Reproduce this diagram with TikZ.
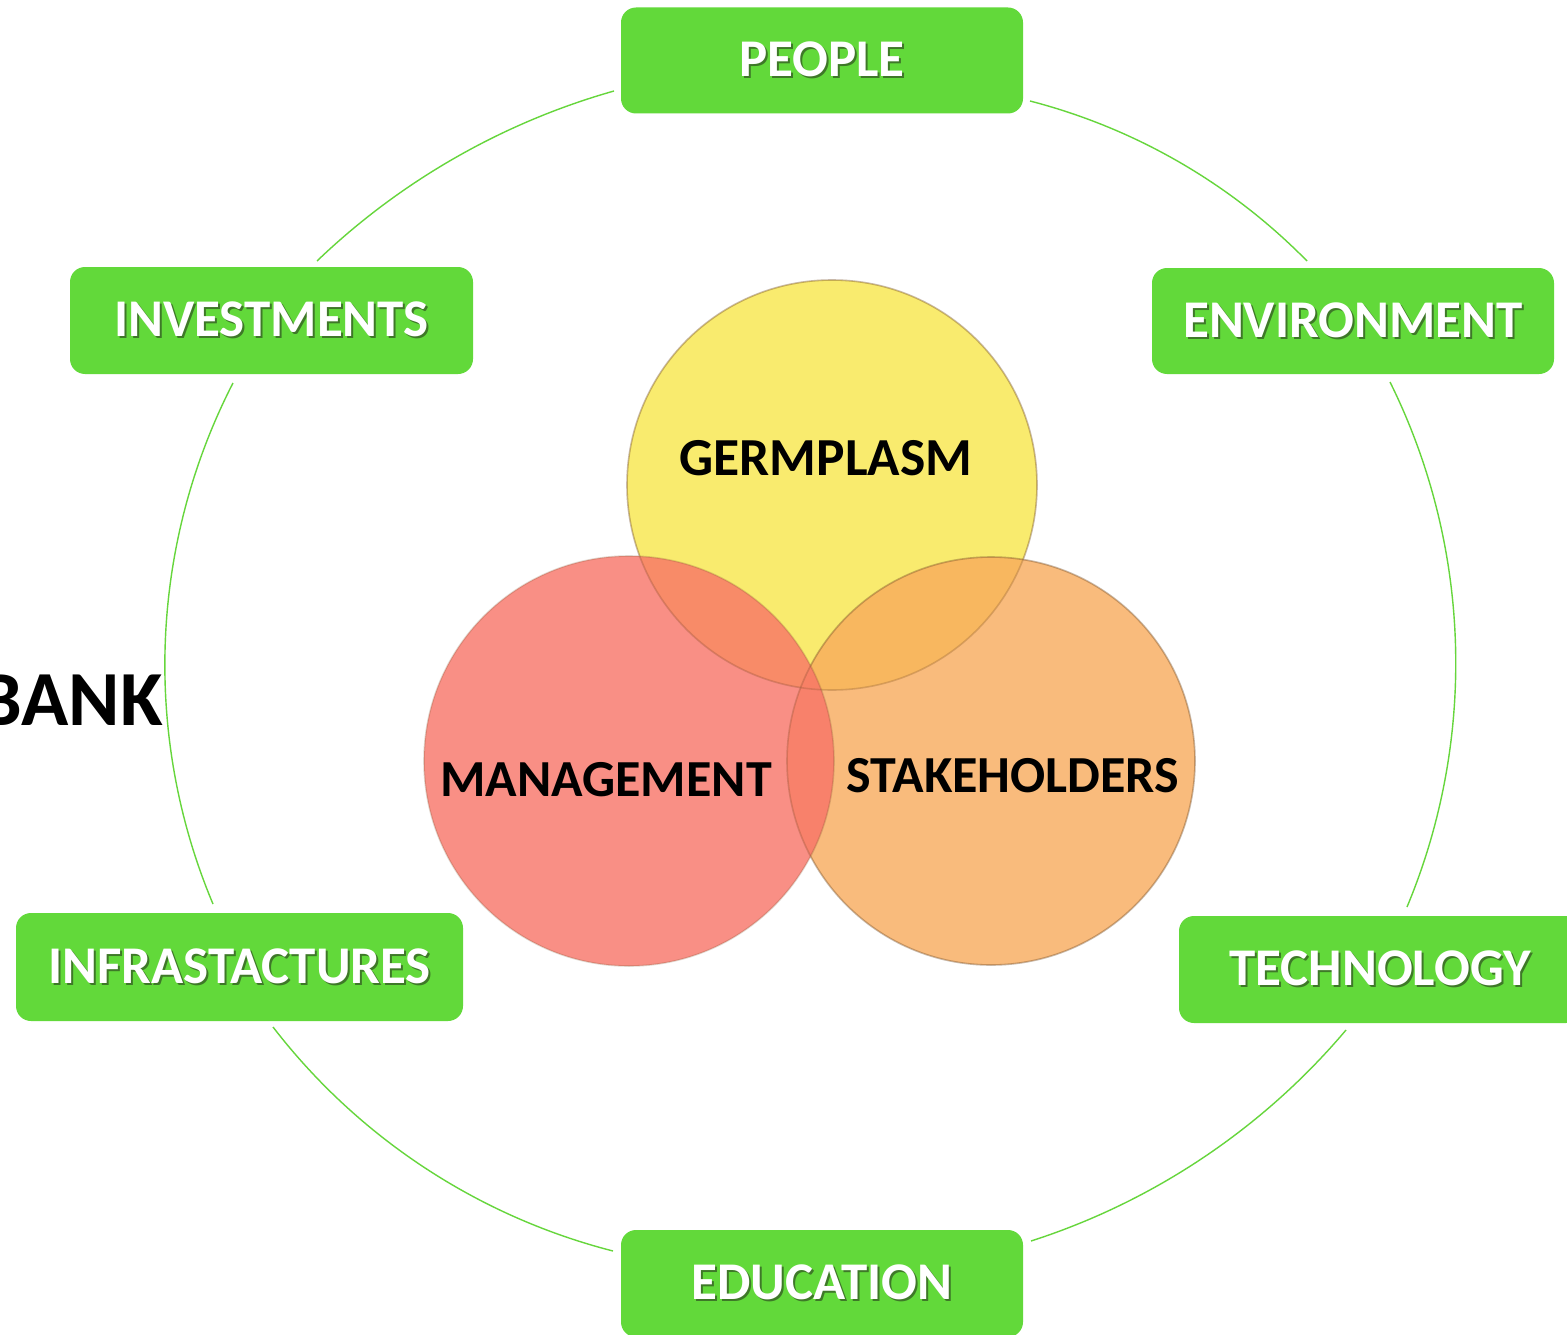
\documentclass[tikz,border=0pt]{standalone}
\usepackage{fontspec}
\setmainfont{Carlito}
\definecolor{boxgreen}{RGB}{98,217,58}
\definecolor{ringgreen}{RGB}{102,214,60}
\definecolor{shadegreen}{RGB}{62,120,40}
\definecolor{cyellow}{RGB}{248,230,74}
\definecolor{corange}{RGB}{248,171,92}
\definecolor{cred}{RGB}{248,115,103}
\newcommand\shadowed[1]{\rlap{\kern2pt\raisebox{-2pt}{\textcolor{shadegreen}{#1}}}#1}
\tikzset{
  x=1pt,y=1pt,
  greenbox/.style={fill=boxgreen, rounded corners=15pt, inner sep=0pt,
    minimum width=402pt, minimum height=106pt, text=white,
    font=\fontsize{53}{60}\selectfont\bfseries},
  ring/.style={draw=ringgreen, line width=1.4pt},
  bubble/.style={fill opacity=0.8, draw=brown!60!black, draw opacity=0.22, line width=1.6pt},
  bubbletext/.style={anchor=base, font=\fontsize{52}{60}\selectfont\bfseries, text=black, inner sep=0pt}
}
\begin{document}
\begin{tikzpicture}
\useasboundingbox (0,0) rectangle (1567,-1335);
\clip (0,0) rectangle (1567,-1335);
\fill[white] (0,0) rectangle (1567,-1335);
% outer ring end points
\coordinate (a1s) at (614,-91);   \coordinate (a1e) at (317,-261);
\coordinate (a2s) at (233,-383);  \coordinate (a2e) at (213,-904);
\coordinate (a3s) at (273,-1027); \coordinate (a3e) at (613,-1251);
\coordinate (a4s) at (1031,-1241);\coordinate (a4e) at (1346,-1030);
\coordinate (a5s) at (1407,-907); \coordinate (a5e) at (1390,-382);
\coordinate (a6s) at (1307,-261); \coordinate (a6e) at (1030,-101);
\draw[ring] (a1s) to[bend right=14, looseness=0.865] (a1e);
\draw[ring] (a2s) to[bend right=25, looseness=0.893] (a2e);
\draw[ring] (a3s) to[bend right=19, looseness=0.876] (a3e);
\draw[ring] (a4s) to[bend right=16, looseness=0.868] (a4e);
\draw[ring] (a5s) to[bend right=24.5, looseness=0.891] (a5e);
\draw[ring] (a6s) to[bend right=15.5, looseness=0.868] (a6e);
% boxes
\node[greenbox] (people) at (822,-60.5) {\shadowed{PEOPLE}};
\node[greenbox] (environment) at (1353,-321) {\shadowed{ENVIRONMENT}};
\node[greenbox, minimum width=403pt, minimum height=107pt] (investments) at (271.5,-320.5) {\shadowed{INVESTMENTS}};
\node[greenbox, minimum width=447pt, minimum height=108pt] (infra) at (239.5,-967) {\shadowed{INFRASTACTURES}};
\node[greenbox, minimum height=107pt] (technology) at (1380,-969.5) {\shadowed{TECHNOLOGY}};
\node[greenbox, minimum height=107pt] (education) at (822,-1283.5) {\shadowed{EDUCATION}};
% side label
\node[anchor=base east, inner sep=0pt, font=\fontsize{78}{90}\selectfont\bfseries] (bank) at (163,-725) {BANK};
% venn circles
\coordinate (cy) at (832,-485);
\coordinate (co) at (991,-761);
\coordinate (cr) at (629,-761);
\fill[cyellow, bubble] (cy) circle[radius=205];
\fill[corange, bubble] (co) circle[radius=204];
\fill[cred, bubble] (cr) circle[radius=205];
\draw[bubble] (cy) circle[radius=205];
\draw[bubble] (co) circle[radius=204];
\node[bubbletext, font=\fontsize{53.5}{60}\selectfont\bfseries] (germplasm) at (826,-475) {GERMPLASM};
\node[bubbletext] (management) at (606,-796) {MANAGEMENT};
\node[bubbletext] (stakeholders) at (1013,-792) {STAKEHOLDERS};
\end{tikzpicture}
\end{document}
